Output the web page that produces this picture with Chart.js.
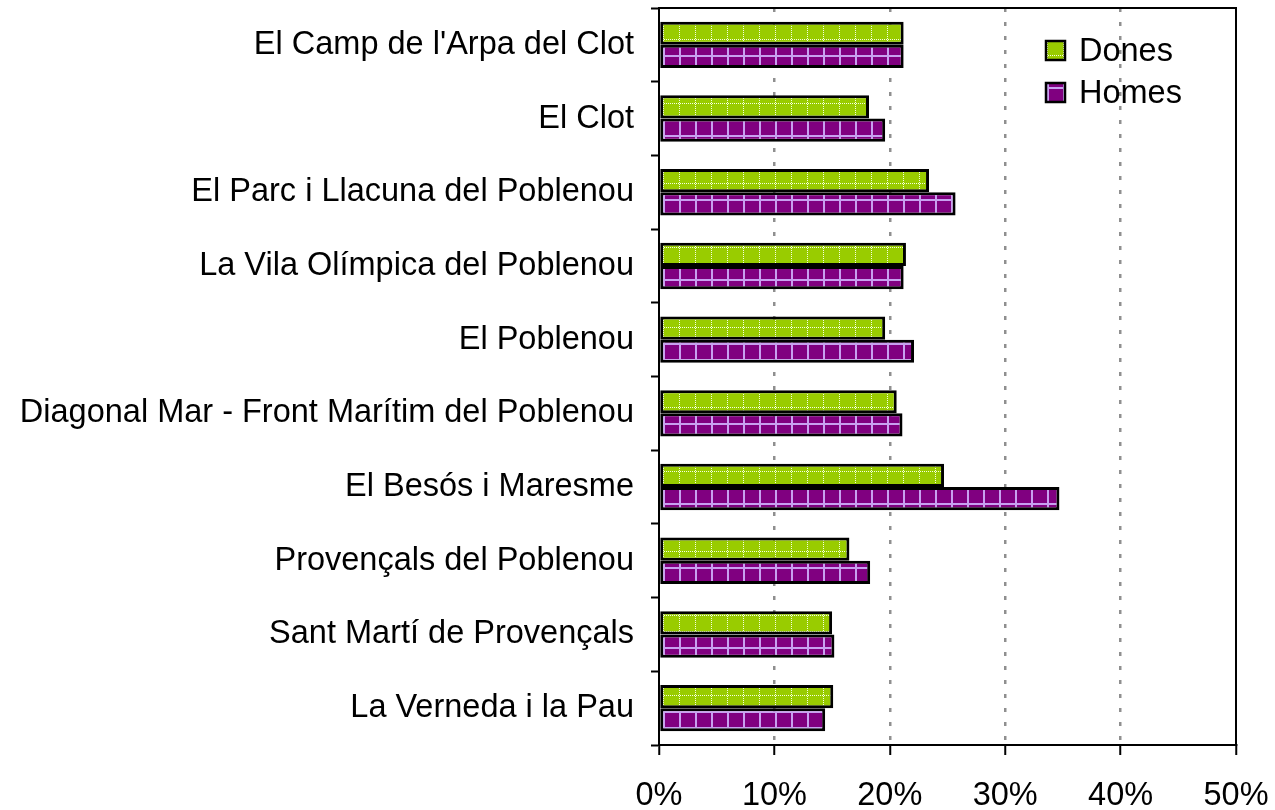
<!DOCTYPE html>
<html><head><meta charset="utf-8">
<script src="https://cdn.jsdelivr.net/npm/chart.js@4/dist/chart.umd.min.js"></script>
<style>html,body{margin:0;padding:0;background:#fff}</style>
</head><body>
<canvas id="c" width="1275" height="810" style="display:block;width:1275px;height:810px"></canvas>
<script>
const categories = [
  "El Camp de l'Arpa del Clot",
  "El Clot",
  "El Parc i Llacuna del Poblenou",
  "La Vila Olímpica del Poblenou",
  "El Poblenou",
  "Diagonal Mar - Front Marítim del Poblenou",
  "El Besós i Maresme",
  "Provençals del Poblenou",
  "Sant Martí de Provençals",
  "La Verneda i la Pau"
];
const seriesLabels = ["Dones", "Homes"];
const dones = [21.2, 18.2, 23.4, 21.4, 19.6, 20.6, 24.7, 16.5, 15.0, 15.1];
const homes = [21.2, 19.6, 25.7, 21.2, 22.1, 21.1, 34.7, 18.3, 15.2, 14.4];
const xTickValues = [0, 10, 20, 30, 40, 50];

const FONT = '"Liberation Sans", Arial, sans-serif';
const FSIZE = 32.5;
Chart.defaults.font.family = FONT;
Chart.defaults.color = '#000';

const canvas = document.getElementById('c');
const mainCtx = canvas.getContext('2d');

function makePattern(kind) {
  const s = 16;
  const c = document.createElement('canvas');
  c.width = s; c.height = s;
  const g = c.getContext('2d');
  if (kind === 'green') {
    g.fillStyle = '#99CC00'; g.fillRect(0, 0, s, s);
    g.fillStyle = '#F4FFE0';
    for (let i = 0; i < s; i += 2) { g.fillRect(7, i, 1, 1); g.fillRect(i, 7, 1, 1); }
  } else {
    g.fillStyle = '#800080'; g.fillRect(0, 0, s, s);
    g.fillStyle = '#C8A0F0';
    g.fillRect(7, 0, 2, s); g.fillRect(0, 7, s, 2);
  }
  return mainCtx.createPattern(c, 'repeat');
}

const frame = {
  id: 'frame',
  afterDatasetsDraw(chart) {
    const { ctx, chartArea: a } = chart;
    ctx.save();
    ctx.strokeStyle = '#000'; ctx.lineWidth = 2;
    ctx.beginPath();
    ctx.moveTo(a.left, a.top); ctx.lineTo(a.right, a.top); ctx.lineTo(a.right, a.bottom);
    ctx.stroke();
    ctx.restore();
  }
};

const insideLegend = {
  id: 'insideLegend',
  afterDraw(chart) {
    const { ctx, chartArea: a } = chart;
    ctx.save();
    ctx.font = FSIZE + 'px ' + FONT;
    ctx.textBaseline = 'middle'; ctx.textAlign = 'left';
    chart.data.datasets.forEach((ds, i) => {
      const bx = a.right - 190, by = a.top + 33 + i * 42;
      ctx.fillStyle = ds.backgroundColor; ctx.fillRect(bx, by, 19, 19);
      ctx.lineWidth = 2.5; ctx.strokeStyle = '#000'; ctx.strokeRect(bx, by, 19, 19);
      ctx.fillStyle = '#000'; ctx.fillText(ds.label, bx + 33, by + 11);
    });
    ctx.restore();
  }
};

new Chart(canvas, {
  type: 'bar',
  data: {
    labels: categories,
    datasets: [
      { label: seriesLabels[0], data: dones, backgroundColor: makePattern('green'), borderColor: '#000', borderWidth: 3, borderSkipped: false },
      { label: seriesLabels[1], data: homes, backgroundColor: makePattern('purple'), borderColor: '#000', borderWidth: 3, borderSkipped: false }
    ]
  },
  options: {
    indexAxis: 'y',
    responsive: false,
    animation: false,
    maintainAspectRatio: false,
    layout: { padding: { left: 0, top: 8, right: 39, bottom: 0 } },
    datasets: { bar: { categoryPercentage: 0.63, barPercentage: 1.0 } },
    plugins: { legend: { display: false }, tooltip: { enabled: false } },
    scales: {
      x: {
        type: 'linear', min: 0, max: 50,
        afterBuildTicks(scale) { scale.ticks = xTickValues.map(v => ({ value: v })); },
        afterFit(scale) { scale.height = 65; scale.paddingLeft = 0; scale.paddingRight = 0; },
        ticks: { callback: v => v + '%', font: { size: FSIZE }, color: '#000', padding: 22, maxRotation: 0 },
        grid: {
          color: c => (c.tick && (c.tick.value === 0 || c.tick.value === 50)) ? 'rgba(0,0,0,0)' : '#8f8f8f',
          lineWidth: 2.5, tickColor: '#000', tickWidth: 2, tickLength: 10
        },
        border: { display: true, color: '#000', width: 2, dash: [4, 10] }
      },
      y: {
        type: 'category',
        afterFit(scale) { scale.width = 659; scale.paddingTop = 0; scale.paddingBottom = 0; },
        ticks: { font: { size: FSIZE }, color: '#000', padding: 17, autoSkip: false },
        grid: { offset: true, drawOnChartArea: false, tickColor: '#000', tickWidth: 2, tickLength: 8 },
        border: { display: true, color: '#000', width: 2 }
      }
    }
  },
  plugins: [frame, insideLegend]
});
</script>
</body></html>
